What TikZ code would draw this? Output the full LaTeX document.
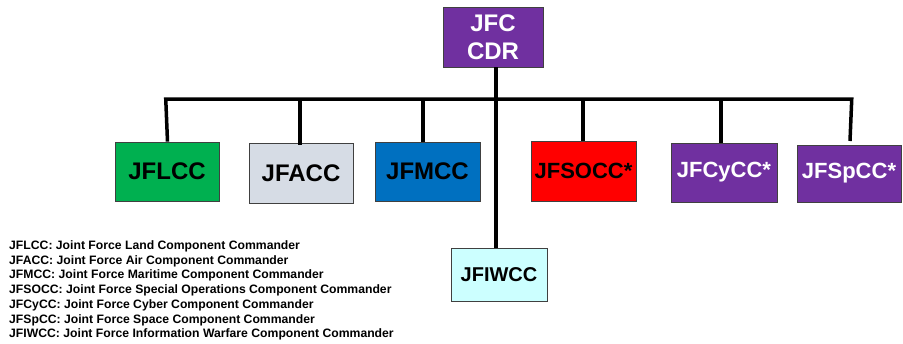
\documentclass[tikz,border=0pt]{standalone}
\usepackage{fontspec}
\setmainfont{Liberation Sans}
\definecolor{cpurple}{HTML}{7030A0}
\definecolor{cgreen}{HTML}{00B050}
\definecolor{cgray}{HTML}{D6DCE5}
\definecolor{cblue}{HTML}{0070C0}
\definecolor{cred}{HTML}{FF0000}
\definecolor{ccyan}{HTML}{CCFFFF}
\definecolor{cedge}{HTML}{404040}
\begin{document}
\begin{tikzpicture}[x=1pt,y=-1pt,
  box/.style={draw=cedge,line width=0.8pt,rectangle,inner sep=0pt,align=center,font=\bfseries\fontsize{22}{24}\selectfont},
  link/.style={line width=3.5pt,draw=black}]
\fill[white] (0,0) rectangle (903,343);
\useasboundingbox (0,0) rectangle (903,343);

\node[box,fill=cpurple,text=white,minimum width=100pt,minimum height=60pt,font=\bfseries\fontsize{24}{28}\selectfont] (jfc) at (493,37) {JFC\\CDR};

\node[box,fill=cgreen,minimum width=104pt,minimum height=59pt,font=\bfseries\fontsize{24}{26}\selectfont] (jflcc) at (167,171.5) {JFLCC};
\node[box,fill=cgray,minimum width=104pt,minimum height=60pt,font=\bfseries\fontsize{24}{26}\selectfont] (jfacc) at (301,173) {JFACC};
\node[box,fill=cblue,minimum width=105pt,minimum height=59pt,font=\bfseries\fontsize{24}{26}\selectfont] (jfmcc) at (427.5,171.5) {JFMCC};
\node[box,fill=cred,minimum width=105pt,minimum height=60pt] (jfsocc) at (583.5,171) {JFSOCC*};
\node[box,fill=cpurple,text=white,minimum width=106pt,minimum height=59pt] (jfcycc) at (724,172.5) {JFCyCC*};
\node[box,fill=cpurple,text=white,minimum width=104pt,minimum height=57pt] (jfspcc) at (849,173.5) {JFSpCC*};
\node[box,fill=ccyan,minimum width=96pt,minimum height=53pt,font=\bfseries\fontsize{20}{22}\selectfont] (jfiwcc) at (499,274.5) {JFIWCC};

\coordinate (barL) at (167.5,99);
\coordinate (barR) at (850,99);
\coordinate (trunk) at (496,99);
\coordinate (tA) at (300,99);
\coordinate (tM) at (423,99);
\coordinate (tS) at (583,99);
\coordinate (tC) at (721,99);
\coordinate (spEnd) at (850,141);

\draw[link] (jflcc.north -| barL) -- ([xshift=-1.75pt]barL) -- ([xshift=1.75pt]barR) -- (spEnd);
\draw[link] (jfc.south -| trunk) -- (jfiwcc.north -| trunk);
\draw[link] (tA) -- ([yshift=-2pt]jfacc.north -| tA);
\draw[link] (tM) -- (jfmcc.north -| tM);
\draw[link] (tS) -- (jfsocc.north -| tS);
\draw[link] (tC) -- (jfcycc.north -| tC);

\node[anchor=north west,align=left,inner sep=0pt,font=\bfseries\fontsize{12.2}{14.7}\selectfont] (legend) at (9,240.5) {JFLCC: Joint Force Land Component Commander\\
JFACC: Joint Force Air Component Commander\\
JFMCC: Joint Force Maritime Component Commander\\
JFSOCC: Joint Force Special Operations Component Commander\\
JFCyCC: Joint Force Cyber Component Commander\\
JFSpCC: Joint Force Space Component Commander\\
JFIWCC: Joint Force Information Warfare Component Commander};
\end{tikzpicture}
\end{document}
